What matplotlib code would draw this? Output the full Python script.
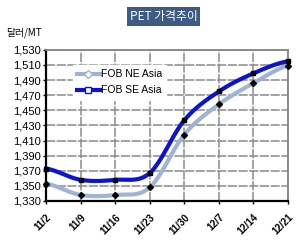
import numpy as np
import matplotlib.pyplot as plt
from matplotlib.lines import Line2D

plt.rcParams['font.family'] = ['Liberation Sans Narrow', 'Liberation Sans', 'Noto Sans CJK KR', 'DejaVu Sans']

dates = ["11/2", "11/9", "11/16", "11/23", "11/30", "12/7", "12/14", "12/21"]
ne_asia = [1353, 1338, 1338, 1348, 1418, 1458, 1486, 1509]
se_asia = [1373, 1358, 1358, 1367, 1437, 1475, 1499, 1515]
yticks = list(range(1330, 1531, 20))


def smooth(y, n=20):
    # catmull-rom through the points, like excel's smoothed line
    y = np.asarray(y, dtype=float)
    p = np.concatenate([[y[0]], y, [y[-1]]])
    xs, ys = [], []
    for i in range(len(y) - 1):
        p0, p1, p2, p3 = p[i], p[i + 1], p[i + 2], p[i + 3]
        t = np.linspace(0, 1, n, endpoint=False)
        ys.extend(0.5 * (2 * p1 + (-p0 + p2) * t + (2 * p0 - 5 * p1 + 4 * p2 - p3) * t ** 2
                         + (-p0 + 3 * p1 - 3 * p2 + p3) * t ** 3))
        xs.extend(i + t)
    xs.append(len(y) - 1)
    ys.append(y[-1])
    return np.array(xs), np.array(ys)


fig = plt.figure(figsize=(3.01, 2.41), dpi=100)
ax = fig.add_axes([0.153, 0.166, 0.804, 0.627])

x = np.arange(len(dates))
ne_col = "#9db4d6"
se_col = "#0a14d2"

sx, sy = smooth(ne_asia)
ax.plot(sx, sy, color=ne_col, lw=3, zorder=3, clip_on=False)
ax.plot(x, ne_asia, "D", color="black", ms=3, zorder=4, clip_on=False)
sx, sy = smooth(se_asia)
ax.plot(sx, sy, color=se_col, lw=3, zorder=3, clip_on=False)
ax.plot(x, se_asia, "s", color="black", ms=3, zorder=4, clip_on=False)

ax.set_xlim(0, len(dates) - 1)
ax.set_ylim(1330, 1530)
ax.set_xticks(x)
ax.set_xticklabels(dates, rotation=45, fontsize=7, fontweight="bold", ha="right", rotation_mode="anchor")
ax.set_yticks(yticks)
ax.set_yticklabels([f"{v:,}" for v in yticks], fontsize=8)
ax.tick_params(axis="both", length=2, width=1, pad=2)
ax.tick_params(axis="x", pad=6)
ax.grid(True, color="#8a8a8a", lw=1.1, ls=(0, (6, 1)))
ax.set_axisbelow(True)
for s in ["left", "bottom"]:
    ax.spines[s].set_color("black")
    ax.spines[s].set_linewidth(1.6)
for s in ["top", "right"]:
    ax.spines[s].set_color("#858585")
    ax.spines[s].set_linewidth(1.3)

handles = [
    Line2D([], [], color=ne_col, lw=3, marker="D", ms=4, mfc="white", mec=ne_col),
    Line2D([], [], color=se_col, lw=3, marker="s", ms=5, mfc="white", mec=se_col),
]
leg = ax.legend(handles, ["FOB NE Asia", "FOB SE Asia"], loc="upper left",
                bbox_to_anchor=(0.11, 0.9), fontsize=7.5, frameon=True, fancybox=False,
                edgecolor="white", framealpha=1, handlelength=2.2, handletextpad=0.1,
                borderpad=0.4, labelspacing=0.6, borderaxespad=0)
leg.set_zorder(5)

fig.text(0.543, 0.93, "PET 가격추이", ha="center", va="center", fontsize=8.5, color="white",
         family=["Noto Sans CJK KR", "DejaVu Sans"],
         bbox=dict(boxstyle="square,pad=0.25", fc="#3d5b84", ec="none"))
fig.text(0.02, 0.865, "달러/MT", ha="left", va="center", fontsize=7,
         family=["Noto Sans CJK KR", "DejaVu Sans"])

fig.savefig("out.png", dpi=100)
